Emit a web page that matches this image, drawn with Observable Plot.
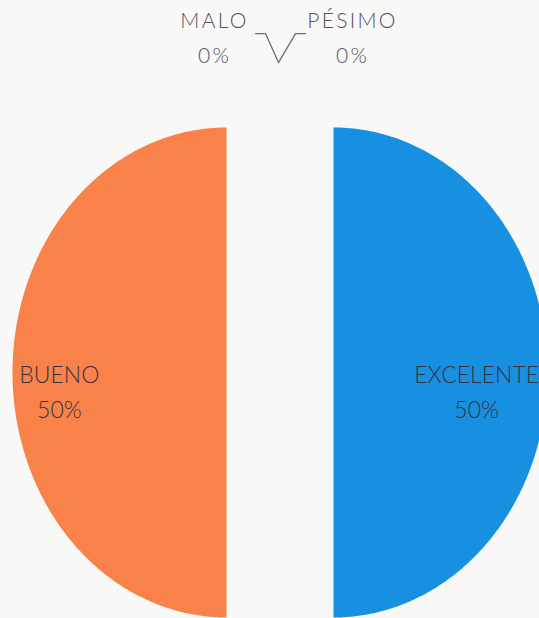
<!DOCTYPE html>
<html><head><meta charset="utf-8">
<script src="https://cdn.jsdelivr.net/npm/d3@7"></script>
<script src="https://cdn.jsdelivr.net/npm/@observablehq/plot@0.6"></script>
<style>
html,body{margin:0;padding:0;background:#f8f8f7;overflow:hidden;}
#chart svg{display:block;}
#chart g.small-labels text{letter-spacing:2.3px;}
</style></head><body><div id="chart"></div>
<script>
// Data
const categories = ["EXCELENTE", "BUENO", "MALO", "PÉSIMO"];
const values = [50, 50, 0, 0];
const colors = ["#1790e2", "#f9824b", "#8a8a8a", "#8a8a8a"];

// Layout
const W = 539, H = 618;
const cx = 279.5, cy = 372, rx = 214, ry = 245;
const explodePx = 53.5;
const labelR = 0.725;
const leaderR = 1.265;

const data = categories.map((c, i) => ({category: c, value: values[i], label: `${c}\n${values[i]}%`}));
const arcs = d3.pie().sort(null).value(d => d.value)(data);

const polys = [], bigLabels = [], smallLabels = [], leaders = [];
let zeroIdx = 0;
arcs.forEach(a => {
  const mid = (a.startAngle + a.endAngle) / 2;
  const c = a.data.category;
  if (a.endAngle - a.startAngle > 0) {
    const ox = Math.sin(mid) * explodePx / rx, oy = Math.cos(mid) * explodePx / ry;
    polys.push({category: c, u: ox, v: oy});
    const n = 200;
    for (let k = 0; k <= n; k++) {
      const t = a.startAngle + (a.endAngle - a.startAngle) * k / n;
      polys.push({category: c, u: ox + Math.sin(t), v: oy + Math.cos(t)});
    }
    polys.push({category: c, u: ox, v: oy});
    bigLabels.push({label: a.data.label, u: ox + labelR * Math.sin(mid), v: oy + labelR * Math.cos(mid)});
  } else {
    const side = zeroIdx === 0 ? -1 : 1;
    zeroIdx++;
    const vu = leaderR * Math.sin(mid) - 1.5 / rx, vv = leaderR * Math.cos(mid);
    const a1 = side < 0 ? 13 : 17, a2 = a1 + 10;
    leaders.push({category: c, u: vu, v: vv});
    leaders.push({category: c, u: vu + side * a1 / rx, v: vv + 29 / ry});
    leaders.push({category: c, u: vu + side * a2 / rx, v: vv + 29 / ry});
    smallLabels.push({label: a.data.label, u: vu + side * (side < 0 ? 64 : 74) / rx, v: vv + 28 / ry});
  }
});

const chart = Plot.plot({
  width: W, height: H, margin: 0,
  x: {domain: [-cx / rx, (W - cx) / rx], axis: null},
  y: {domain: [(cy - H) / ry, cy / ry], axis: null},
  color: {domain: categories, range: colors},
  style: {background: "transparent", fontFamily: "Lato, sans-serif"},
  marks: [
    Plot.line(polys, {x: "u", y: "v", z: "category", fill: "category", stroke: null}),
    Plot.line(leaders, {x: "u", y: "v", z: "category", stroke: "#6e6e6e", strokeWidth: 1.3}),
    Plot.text(bigLabels, {x: "u", y: "v", text: "label", fontSize: 23, lineHeight: 1.53, fill: "#3a3140", fontWeight: 300, dx: -12, dy: 17}),
    Plot.text(smallLabels, {x: "u", y: "v", text: "label", fontSize: 21, lineHeight: 1.68, fill: "#5a4d62", fontWeight: 300, className: "small-labels"})
  ]
});
document.getElementById("chart").append(chart);
</script></body></html>
